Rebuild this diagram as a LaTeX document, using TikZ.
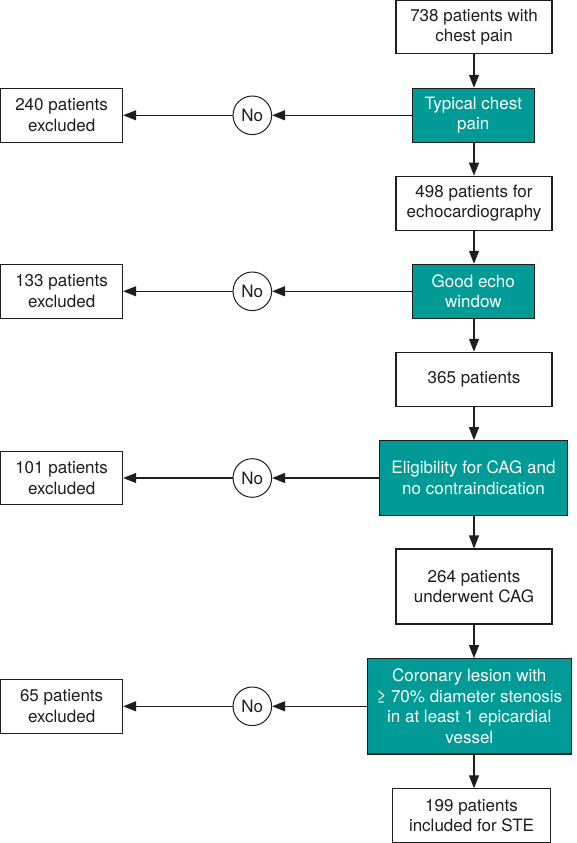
\documentclass[tikz,border=0pt]{standalone}
\usepackage{fontspec}
\setmainfont{TeX Gyre Heros}
\usetikzlibrary{arrows.meta}
\definecolor{teal1}{RGB}{0,155,150}
\definecolor{ink}{RGB}{30,30,30}
\begin{document}
\begin{tikzpicture}[x=1pt,y=-1pt,
 box/.style={draw=ink, line width=1.1pt, fill=white, align=center, inner sep=0pt,
   font=\fontsize{17}{20.7}\selectfont, text=ink},
 tealbox/.style={box, fill=teal1, text=white},
 nocirc/.style={draw=ink, circle, minimum size=38.6pt, inner sep=0pt, line width=1pt,
   fill=white, font=\fontsize{17}{20.7}\selectfont, text=ink},
 arr/.style={draw=ink, line width=1.1pt, -{Triangle[length=13pt,width=10pt]}},
]
\useasboundingbox (0,0) rectangle (576,843);
% main column
\node[box, minimum width=156pt, minimum height=53pt] (n1) at (474,27.2) {738 patients with\\chest pain};
\node[tealbox, minimum width=122pt, minimum height=54pt] (t1) at (473.3,115.3) {Typical chest\\pain};
\node[box, minimum width=156pt, minimum height=54pt] (n2) at (474,203.2) {498 patients for\\echocardiography};
\node[tealbox, minimum width=122pt, minimum height=54pt] (t2) at (473.3,291.3) {Good echo\\window};
\node[box, minimum width=156pt, minimum height=54.4pt] (n3) at (474,379.5) {365 patients};
\node[tealbox, minimum width=188pt, minimum height=74.6pt] (t3) at (473.5,478) {Eligibility for CAG and\\no contraindication};
\node[box, minimum width=156pt, minimum height=75pt] (n4) at (474,586.5) {264 patients\\underwent CAG};
\node[tealbox, minimum width=204pt, minimum height=95.3pt] (t4) at (469.3,706.3) {Coronary lesion with\\≥ 70\% diameter stenosis\\in at least 1 epicardial\\vessel};
\node[box, minimum width=158pt, minimum height=53.4pt] (n5) at (471.5,815.6) {199 patients\\included for STE};
% exclusion column
\node[box, minimum width=122pt, minimum height=54pt] (e1) at (61.6,115.3) {240 patients\\excluded};
\node[box, minimum width=122pt, minimum height=54pt] (e2) at (61.6,291.3) {133 patients\\excluded};
\node[box, minimum width=122pt, minimum height=53pt] (e3) at (61.6,478) {101 patients\\excluded};
\node[box, minimum width=122pt, minimum height=54pt] (e4) at (61.6,706.3) {65 patients\\excluded};
\node[nocirc] (c1) at (252.3,115.3) {No};
\node[nocirc] (c2) at (252.3,291.3) {No};
\node[nocirc] (c3) at (252.3,478) {No};
\node[nocirc] (c4) at (252.3,706.3) {No};
% vertical arrows
\draw[arr] (n1.south -| 474,0) -- (t1.north -| 474,0);
\draw[arr] (t1.south -| 474,0) -- (n2.north -| 474,0);
\draw[arr] (n2.south -| 474,0) -- (t2.north -| 474,0);
\draw[arr] (t2.south -| 474,0) -- (n3.north -| 474,0);
\draw[arr] (n3.south -| 474,0) -- (t3.north -| 474,0);
\draw[arr] (t3.south -| 474,0) -- (n4.north -| 474,0);
\draw[arr] (n4.south -| 474,0) -- (t4.north -| 474,0);
\draw[arr] (t4.south -| 474,0) -- (n5.north -| 474,0);
% horizontal arrows
\draw[arr] (t1.west) -- (c1.east);
\draw[arr] (c1.west) -- (e1.east);
\draw[arr] (t2.west) -- (c2.east);
\draw[arr] (c2.west) -- (e2.east);
\draw[arr] (t3.west) -- (c3.east);
\draw[arr] (c3.west) -- (e3.east);
\draw[arr] (t4.west) -- (c4.east);
\draw[arr] (c4.west) -- (e4.east);
\end{tikzpicture}
\end{document}
